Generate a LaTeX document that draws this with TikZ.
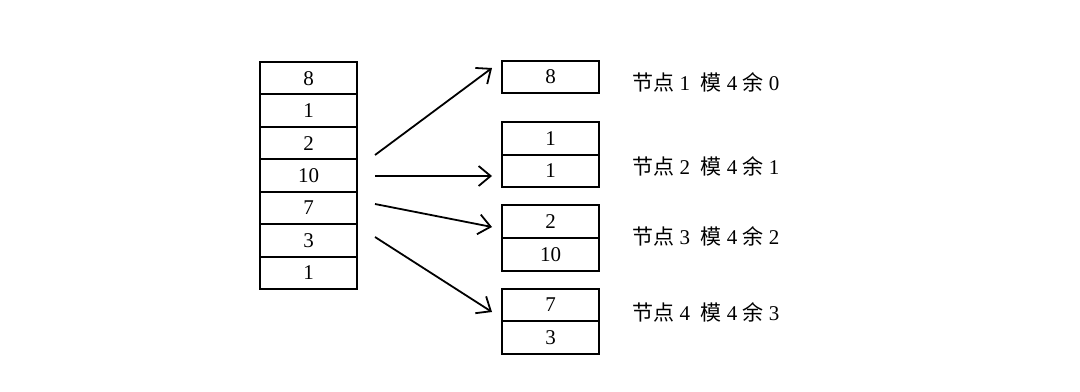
\documentclass[tikz,border=0pt]{standalone}
\usepackage{fontspec}
\setmainfont{Liberation Serif}
\newfontfamily\cjk{Noto Sans CJK SC}
\usetikzlibrary{arrows.meta,positioning}

\begin{document}
\begin{tikzpicture}[
  x=0.5pt, y=-0.5pt,
  every node/.style={font=\fontsize{10.5}{12}\selectfont},
  cell/.style={rectangle, draw, line width=0.95pt, minimum width=48.5pt,
               minimum height=16.2pt, inner sep=0pt, text centered},
  lbl/.style={anchor=west, inner sep=0pt, font=\fontsize{10.5}{12}\selectfont},
  arr/.style={-{Straight Barb[length=6pt,width=10pt,line width=0.9pt]}, line width=0.9pt},
]
\useasboundingbox (0,0) rectangle (1080,391);

% key stack
\foreach \v [count=\i] in {8,1,2,10,7,3,1}
  \node[cell] (l\i) at (308.5,{78.2+32.43*(\i-1)}) {\v};

% nodes by key mod 4
\node[cell] (r1)  at (550.5,77)    {8};
\node[cell] (r2a) at (550.5,138.5) {1};
\node[cell] (r2b) at (550.5,171)   {1};
\node[cell] (r3a) at (550.5,221.5) {2};
\node[cell] (r3b) at (550.5,254.5) {10};
\node[cell] (r4a) at (550.5,305)   {7};
\node[cell] (r4b) at (550.5,337.5) {3};

\node[lbl] (t1) at (632,82)  {{\cjk 节点} 1\ \ {\cjk 模} 4 {\cjk 余} 0};
\node[lbl] (t2) at (632,166) {{\cjk 节点} 2\ \ {\cjk 模} 4 {\cjk 余} 1};
\node[lbl] (t3) at (632,236) {{\cjk 节点} 3\ \ {\cjk 模} 4 {\cjk 余} 2};
\node[lbl] (t4) at (632,312) {{\cjk 节点} 4\ \ {\cjk 模} 4 {\cjk 余} 3};

% arrows
\coordinate (s1) at (375,155); \coordinate (e1) at (492,68);
\coordinate (s2) at (375,176); \coordinate (e2) at (492,176);
\coordinate (s3) at (375,204); \coordinate (e3) at (492,227);
\coordinate (s4) at (375,237); \coordinate (e4) at (492,312);
\foreach \k in {1,...,4}
  \draw[arr] (s\k) -- (e\k);
\end{tikzpicture}
\end{document}
